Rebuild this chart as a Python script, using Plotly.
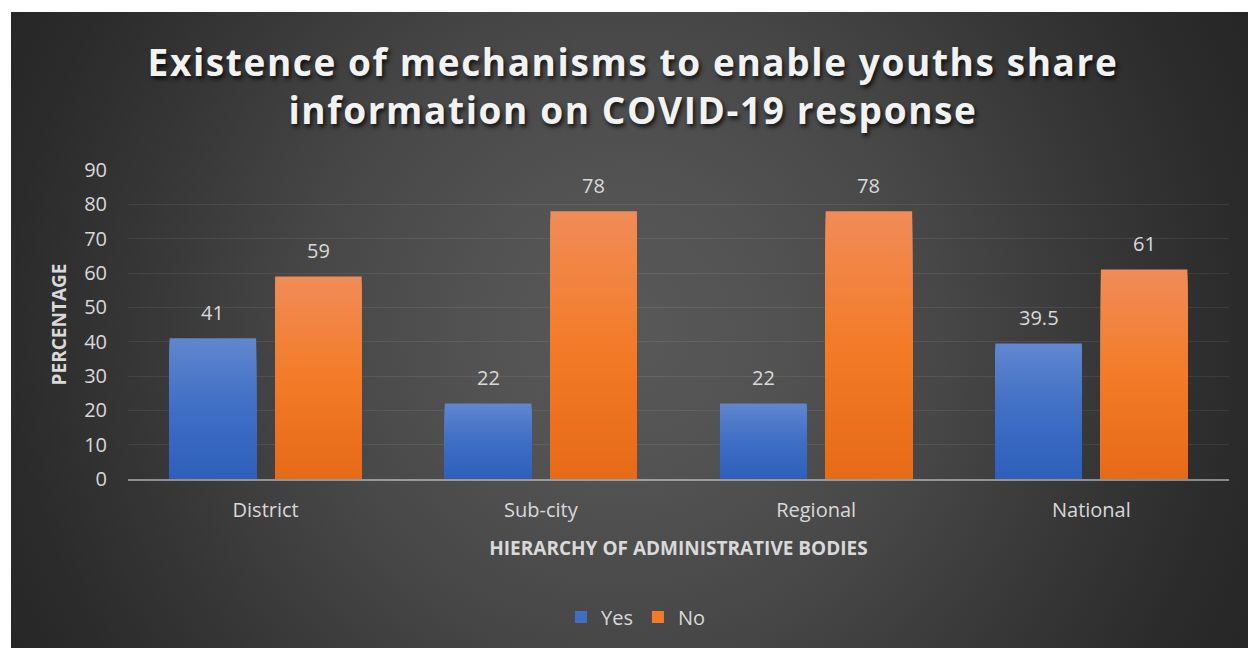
import base64
import plotly.graph_objects as go

# ---- data -------------------------------------------------------------
categories = ["District", "Sub-city", "Regional", "National"]
yes_values = [41, 22, 22, 39.5]
no_values = [59, 78, 78, 61]
series_names = ["Yes", "No"]
y_tick_values = [0, 10, 20, 30, 40, 50, 60, 70, 80, 90]

# ---- geometry ---------------------------------------------------------
W, H = 1248, 648
ML, MR, MT, MB = 128, 19, 170, 169
PLOT_W = W - ML - MR
PLOT_H = H - MT - MB
BARGAP = 0.233
BARGROUPGAP = 0.18
N_SLICES = 40

FONT = "Open Sans, Lato, DejaVu Sans, sans-serif"
TEXT_COL = "#d9d9d9"

# vertical gradients for the bars (bottom, middle, top)
BLUE_STOPS = ["#2d60bc", "#3f6ec5", "#6187ce"]
ORANGE_STOPS = ["#e76a17", "#f37b28", "#f08c58"]


def hex_to_rgb(h):
    h = h.lstrip("#")
    return [int(h[i:i + 2], 16) for i in (0, 2, 4)]


def gradient(stops, t):
    if t <= 0.5:
        a, b, u = stops[0], stops[1], t / 0.5
    else:
        a, b, u = stops[1], stops[2], (t - 0.5) / 0.5
    ca, cb = hex_to_rgb(a), hex_to_rgb(b)
    c = [round(x + (y - x) * u) for x, y in zip(ca, cb)]
    return "rgb(%d,%d,%d)" % tuple(c)


# ---- dark radial backdrop as an SVG image ------------------------------
BG_X0, BG_Y0 = 11, 12
bg_w, bg_h = W - BG_X0, H - BG_Y0
svg = f"""<svg xmlns="http://www.w3.org/2000/svg" width="{bg_w}" height="{bg_h}" viewBox="0 0 {bg_w} {bg_h}">
<defs><radialGradient id="g" gradientUnits="userSpaceOnUse" cx="{625 - BG_X0}" cy="{330 - BG_Y0}" r="700">
<stop offset="0" stop-color="#585858"/>
<stop offset="0.2" stop-color="#535353"/>
<stop offset="0.45" stop-color="#474747"/>
<stop offset="0.7" stop-color="#363636"/>
<stop offset="0.88" stop-color="#2b2b2b"/>
<stop offset="1" stop-color="#262626"/>
</radialGradient></defs>
<rect x="0" y="0" width="{bg_w}" height="{bg_h}" fill="url(#g)"/>
</svg>"""
bg_uri = "data:image/svg+xml;base64," + base64.b64encode(svg.encode()).decode()

fig = go.Figure()

# each bar is built from overlapping, progressively shorter bars so the
# fill brightens towards the top of every bar
for name, values, stops in ((series_names[0], yes_values, BLUE_STOPS),
                            (series_names[1], no_values, ORANGE_STOPS)):
    for k in range(N_SLICES):
        frac = (N_SLICES - k) / N_SLICES
        col = gradient(stops, (N_SLICES - k - 0.5) / N_SLICES)
        fig.add_trace(go.Bar(
            x=categories,
            y=[v * frac for v in values],
            name=name,
            offsetgroup=name,
            legendgroup=name,
            showlegend=(k == N_SLICES // 2),
            marker=dict(color=col, line=dict(width=0)),
            hoverinfo="skip" if k else "x+y+name",
        ))

# data labels above each bar
cat_px = PLOT_W / len(categories)
slot_px = cat_px * (1 - BARGAP) / 2
annotations = []
for s, values in enumerate((yes_values, no_values)):
    shift = (-0.5 if s == 0 else 0.5) * slot_px
    for cat, v in zip(categories, values):
        annotations.append(dict(
            x=cat, y=v, xref="x", yref="y", text=f"{v:g}",
            showarrow=False, xshift=shift, yshift=26, yanchor="middle",
            font=dict(family=FONT, size=20, color=TEXT_COL),
        ))

fig.update_layout(
    width=W, height=H,
    margin=dict(l=ML, r=MR, t=MT, b=MB, pad=0),
    paper_bgcolor="white",
    plot_bgcolor="rgba(0,0,0,0)",
    barmode="group",
    bargap=BARGAP,
    bargroupgap=BARGROUPGAP,
    title=dict(
        text="Existence of mechanisms to enable youths share<br>information on COVID-19 response",
        x=633 / W, xanchor="center",
        y=1 - 76 / H, yanchor="middle",
        font=dict(family=FONT, size=37, color="#f2f2f2", weight="bold",
                  shadow="2px 3px 4px rgba(0,0,0,0.75)"),
    ),
    font=dict(family=FONT, color=TEXT_COL),
    xaxis=dict(
        showgrid=False, zeroline=False,
        showline=True, linecolor="rgba(217,217,217,0.55)", linewidth=2,
        tickfont=dict(size=20, color=TEXT_COL),
        ticks="", ticklabelstandoff=12,
        title=dict(text="HIERARCHY OF ADMINISTRATIVE BODIES", standoff=20,
                   font=dict(size=19, color=TEXT_COL, weight="bold")),
    ),
    yaxis=dict(
        range=[0, 90], tickvals=y_tick_values,
        showgrid=True, gridcolor="rgba(255,255,255,0.075)", gridwidth=1.3,
        zeroline=False, showline=False,
        tickfont=dict(size=20, color=TEXT_COL),
        ticks="", ticklabelstandoff=20,
        title=dict(text="PERCENTAGE", standoff=12,
                   font=dict(size=19, color=TEXT_COL, weight="bold")),
    ),
    legend=dict(
        orientation="h", x=(636 - ML) / PLOT_W, xanchor="center",
        y=(H - MB - 617) / PLOT_H, yanchor="middle",
        font=dict(size=20, color=TEXT_COL),
        bgcolor="rgba(0,0,0,0)",
        itemclick=False, itemdoubleclick=False,
    ),
    annotations=annotations,
    images=[dict(
        source=bg_uri, xref="paper", yref="paper",
        x=(BG_X0 - ML) / PLOT_W, y=(H - MB - BG_Y0) / PLOT_H,
        sizex=bg_w / PLOT_W, sizey=bg_h / PLOT_H,
        xanchor="left", yanchor="top", sizing="stretch", layer="below",
    )],
)

# widen the title's letter spacing once the chart is drawn
post_js = """
var t = document.querySelector('.gtitle');
if (t) { t.style.letterSpacing = '1.6px'; }
"""

fig.write_html("out.html", post_script=post_js)
